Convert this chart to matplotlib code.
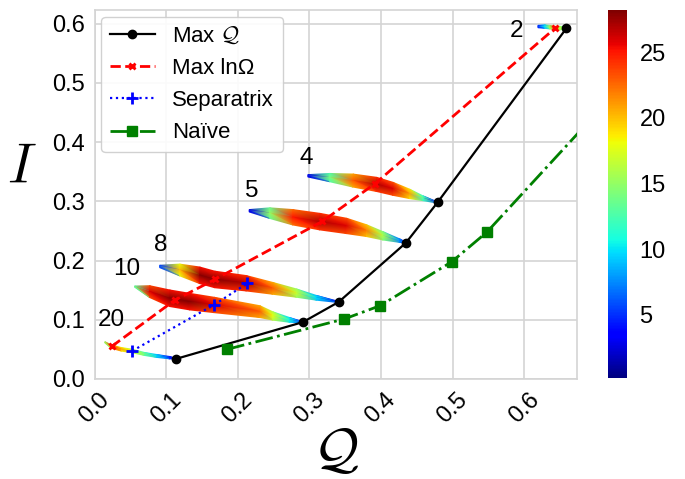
import numpy as np
import matplotlib
matplotlib.use("Agg")
import matplotlib.pyplot as plt
import matplotlib.tri as mtri
from matplotlib.colors import Normalize

plt.rcParams['font.family'] = ['Liberation Sans', 'DejaVu Sans']
plt.rcParams['mathtext.fontset'] = 'cm'

# curves through the bands
maxq_q = [0.114, 0.291, 0.341, 0.435, 0.479, 0.659]
maxq_i = [0.034, 0.096, 0.130, 0.230, 0.298, 0.592]

maxom_q = [0.024, 0.112, 0.168, 0.318, 0.392, 0.643]
maxom_i = [0.055, 0.133, 0.168, 0.266, 0.330, 0.592]

sep_q = [0.0525, 0.1666, 0.2136]
sep_i = [0.0473, 0.125, 0.1616]

naive_q = [0.185, 0.349, 0.399, 0.499, 0.548, 0.75]
naive_i = [0.050, 0.1014, 0.1238, 0.198, 0.248, 0.513]

# bands: centre line, half thickness, colour value
b20_q = [0.0144, 0.0237, 0.0377, 0.0525, 0.070, 0.0866, 0.105, 0.112]
b20_i = [0.062, 0.0546, 0.050, 0.0473, 0.0422, 0.0389, 0.036, 0.0345]
b20_w = [0.001, 0.003, 0.003, 0.003, 0.0025, 0.0025, 0.002, 0.001]
b20_v = [16, 25, 21, 18, 14, 10, 5, 2]

b10_q = [0.056, 0.077, 0.105, 0.133, 0.167, 0.231, 0.249, 0.2725, 0.291]
b10_i = [0.156, 0.1475, 0.1363, 0.1306, 0.125, 0.1137, 0.1064, 0.0997, 0.0958]
b10_w = [0.001, 0.010, 0.014, 0.014, 0.013, 0.010, 0.007, 0.004, 0.001]
b10_v = [14, 26, 28, 28, 26, 23, 18, 11, 4]

b8_q = [0.091, 0.119, 0.147, 0.168, 0.212, 0.249, 0.282, 0.310, 0.341]
b8_i = [0.190, 0.184, 0.175, 0.168, 0.1616, 0.153, 0.145, 0.137, 0.130]
b8_w = [0.002, 0.010, 0.014, 0.014, 0.013, 0.010, 0.007, 0.004, 0.001]
b8_v = [6, 20, 28, 28, 27, 23, 17, 10, 3]

b5_q = [0.216, 0.2447, 0.277, 0.3145, 0.352, 0.3797, 0.403, 0.426, 0.435]
b5_i = [0.284, 0.280, 0.273, 0.2657, 0.2584, 0.2505, 0.2416, 0.2336, 0.230]
b5_w = [0.002, 0.009, 0.013, 0.014, 0.013, 0.010, 0.007, 0.003, 0.001]
b5_v = [3, 15, 25, 27, 26, 22, 16, 8, 3]

b4_q = [0.298, 0.3285, 0.361, 0.394, 0.417, 0.440, 0.459, 0.479]
b4_i = [0.343, 0.340, 0.335, 0.3285, 0.321, 0.3125, 0.305, 0.298]
b4_w = [0.002, 0.007, 0.011, 0.012, 0.011, 0.008, 0.004, 0.001]
b4_v = [3, 14, 23, 27, 26, 21, 13, 3]

b2_q = [0.6193, 0.6287, 0.6356, 0.6426, 0.6496, 0.659]
b2_i = [0.595, 0.595, 0.594, 0.5924, 0.5924, 0.5924]
b2_w = [0.002, 0.003, 0.003, 0.003, 0.003, 0.002]
b2_v = [5, 10, 16, 24, 17, 13]

band_labels = ['2', '4', '5', '8', '10', '20']
label_q = [0.590, 0.296, 0.219, 0.092, 0.045, 0.024]
label_i = [0.588, 0.373, 0.318, 0.226, 0.185, 0.100]

norm = Normalize(vmin=0.2, vmax=28.2)
grey = '#d4d4d4'


def draw_band(ax, q, i, w, v):
    """band as three rows of vertices, gouraud shaded"""
    n = len(q)
    xs, ys, cs = [], [], []
    for j in range(n):
        xs += [q[j], q[j], q[j]]
        ys += [i[j] + w[j], i[j], i[j] - w[j]]
        cs += [v[j] * 0.9, v[j], v[j] * 0.9]
    tris = []
    for j in range(n - 1):
        a = 3 * j
        b = 3 * (j + 1)
        for r in range(2):
            tris.append([a + r, b + r, b + r + 1])
            tris.append([a + r, b + r + 1, a + r + 1])
    tri = mtri.Triangulation(xs, ys, tris)
    return ax.tripcolor(tri, cs, shading='gouraud', cmap='jet', norm=norm, zorder=2)


fig = plt.figure(figsize=(6.85, 4.79), dpi=100)
ax = fig.add_axes([0.138, 0.2088, 0.704, 0.7704])
cax = fig.add_axes([0.8876, 0.2109, 0.0277, 0.768])

for q, i, w, v in [(b20_q, b20_i, b20_w, b20_v), (b10_q, b10_i, b10_w, b10_v),
                   (b8_q, b8_i, b8_w, b8_v), (b5_q, b5_i, b5_w, b5_v),
                   (b4_q, b4_i, b4_w, b4_v), (b2_q, b2_i, b2_w, b2_v)]:
    im = draw_band(ax, q, i, w, v)

ax.plot(maxq_q, maxq_i, '-', color='black', lw=1.6, marker='o', ms=6, label=r'Max $\mathcal{Q}$', zorder=4)
ax.plot(maxom_q, maxom_i, '--', color='red', lw=2, marker='x', ms=5, mew=2, label='Max lnΩ', zorder=4)
ax.plot(sep_q, sep_i, ':', color='blue', lw=1.6, marker='+', ms=9, mew=2, label='Separatrix', zorder=4)
ax.plot(naive_q, naive_i, '-.', color='green', lw=2, marker='s', ms=7, label='Naïve', zorder=4)

for t, q, i in zip(band_labels, label_q, label_i):
    ax.text(q, i, t, fontsize=17.5, ha='center', va='center')

ax.set_xlim(0, 0.6735)
ax.set_ylim(0, 0.623)
ax.set_xticks([0.0, 0.1, 0.2, 0.3, 0.4, 0.5, 0.6])
ax.set_yticks([0.0, 0.1, 0.2, 0.3, 0.4, 0.5, 0.6])
ax.tick_params(labelsize=17, length=0, pad=7)
plt.setp(ax.get_xticklabels(), rotation=45)
ax.grid(True, color=grey, lw=1.2)
ax.set_axisbelow(True)
for s in ax.spines.values():
    s.set_color(grey)
    s.set_linewidth(1.2)

ax.set_xlabel(r'$\mathcal{Q}$', fontsize=40, labelpad=0)
ax.set_ylabel(r'$I$', fontsize=40, rotation=0, labelpad=22)

ax.legend(loc='upper left', fontsize=16, edgecolor='.8', framealpha=0.9, borderaxespad=0.3)

cb = fig.colorbar(im, cax=cax)
cb.set_ticks([5, 10, 15, 20, 25])
cb.ax.tick_params(labelsize=17, length=0, pad=9)
cb.outline.set_visible(False)

fig.savefig('out.png', dpi=100)
